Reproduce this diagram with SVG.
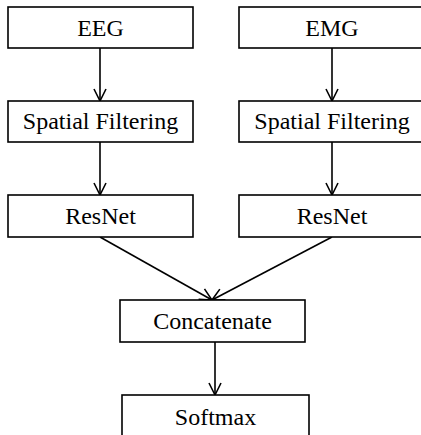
<svg xmlns="http://www.w3.org/2000/svg" width="421" height="435" viewBox="0 0 421 435">
<defs>
<marker id="arr" markerUnits="userSpaceOnUse" markerWidth="16" markerHeight="16" viewBox="-14 -8 16 16" refX="0" refY="0" orient="auto">
<path d="M-12,-6 L0,0 L-12,6" fill="none" stroke="#000" stroke-width="1.6"/>
</marker>
</defs>
<style>
.box{fill:#fff;stroke:#000;stroke-width:1.6}
text{font-family:'Liberation Serif','Times New Roman','DejaVu Serif',serif;font-size:24px;fill:#000;text-anchor:middle}
.edge{stroke:#000;stroke-width:1.6;fill:none;marker-end:url(#arr)}
</style>
<rect width="421" height="435" fill="#fff"/>
<g id="connectors">
<line class="edge" x1="100" y1="48" x2="100" y2="101"/>
<line class="edge" x1="332" y1="48" x2="332" y2="101"/>
<line class="edge" x1="100" y1="142" x2="100" y2="195"/>
<line class="edge" x1="332" y1="142" x2="332" y2="195"/>
<line class="edge" x1="100" y1="237" x2="212" y2="300"/>
<line class="edge" x1="332" y1="237" x2="212" y2="300"/>
<line class="edge" x1="215" y1="342" x2="215" y2="395"/>
</g>
<g id="eeg"><rect class="box" x="8" y="7" width="185" height="41"/><text x="100.5" y="36" font-family="Liberation Serif, serif">EEG</text></g>
<g id="emg"><rect class="box" x="239" y="7" width="186" height="41"/><text x="332" y="36" font-family="Liberation Serif, serif">EMG</text></g>
<g id="sf1"><rect class="box" x="8" y="101" width="185" height="41"/><text x="100.5" y="129" font-family="Liberation Serif, serif">Spatial Filtering</text></g>
<g id="sf2"><rect class="box" x="239" y="101" width="186" height="41"/><text x="332" y="129" font-family="Liberation Serif, serif">Spatial Filtering</text></g>
<g id="resnet1"><rect class="box" x="8" y="195" width="185" height="42"/><text x="100.5" y="224" font-family="Liberation Serif, serif">ResNet</text></g>
<g id="resnet2"><rect class="box" x="239" y="195" width="186" height="42"/><text x="332" y="224" font-family="Liberation Serif, serif">ResNet</text></g>
<g id="concat"><rect class="box" x="120" y="300" width="185" height="42"/><text x="212.5" y="329" font-family="Liberation Serif, serif">Concatenate</text></g>
<g id="softmax"><rect class="box" x="122" y="395" width="187" height="42"/><text x="215.5" y="425" font-family="Liberation Serif, serif">Softmax</text></g>
</svg>
